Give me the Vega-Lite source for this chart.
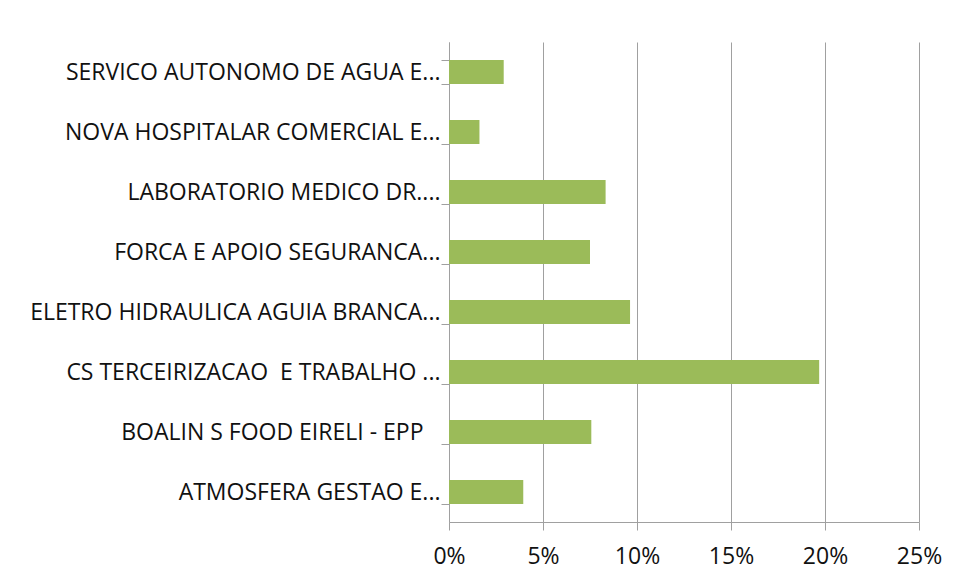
{
  "$schema": "https://vega.github.io/schema/vega-lite/v6.json",
  "autosize": "none",
  "width": 470,
  "height": 480,
  "padding": {"left": 449, "top": 42, "right": 37, "bottom": 61},
  "background": "white",
  "config": {"view": {"stroke": null}},
  "data": {"values": [
    {"empresa": "SERVICO AUTONOMO DE AGUA E...", "pct": 0.0291},
    {"empresa": "NOVA HOSPITALAR COMERCIAL E...", "pct": 0.0162},
    {"empresa": "LABORATORIO MEDICO DR....", "pct": 0.0833},
    {"empresa": "FORCA E APOIO SEGURANCA...", "pct": 0.075},
    {"empresa": "ELETRO HIDRAULICA AGUIA BRANCA...", "pct": 0.0963},
    {"empresa": "CS TERCEIRIZACAO\u00a0 E TRABALHO ...", "pct": 0.1969},
    {"empresa": "BOALIN S FOOD EIRELI - EPP\u2800", "pct": 0.0757},
    {"empresa": "ATMOSFERA GESTAO E...", "pct": 0.0395}
  ]},
  "mark": {"type": "bar", "color": "#9BBB59"},
  "encoding": {
    "y": {
      "field": "empresa", "type": "nominal", "sort": null, "title": null,
      "scale": {"paddingInner": 0.6, "paddingOuter": 0.3},
      "axis": {
        "labelFont": "Open Sans", "labelFontSize": 23, "labelColor": "#111111",
        "labelPadding": 1, "tickSize": 8, "tickBand": "extent",
        "tickColor": "#a0a0a0", "domainColor": "#a0a0a0", "labelLimit": 445
      }
    },
    "x": {
      "field": "pct", "type": "quantitative", "title": null,
      "scale": {"domain": [0, 0.25], "nice": false},
      "axis": {
        "format": ".0%", "values": [0, 0.05, 0.1, 0.15, 0.2, 0.25],
        "grid": true, "gridColor": "#a0a0a0", "gridOpacity": 1,
        "labelFont": "Open Sans", "labelFontSize": 23, "labelColor": "#111111",
        "tickSize": 8, "tickColor": "#a0a0a0", "domainColor": "#a0a0a0",
        "labelPadding": 15, "labelFlush": false
      }
    }
  }
}
